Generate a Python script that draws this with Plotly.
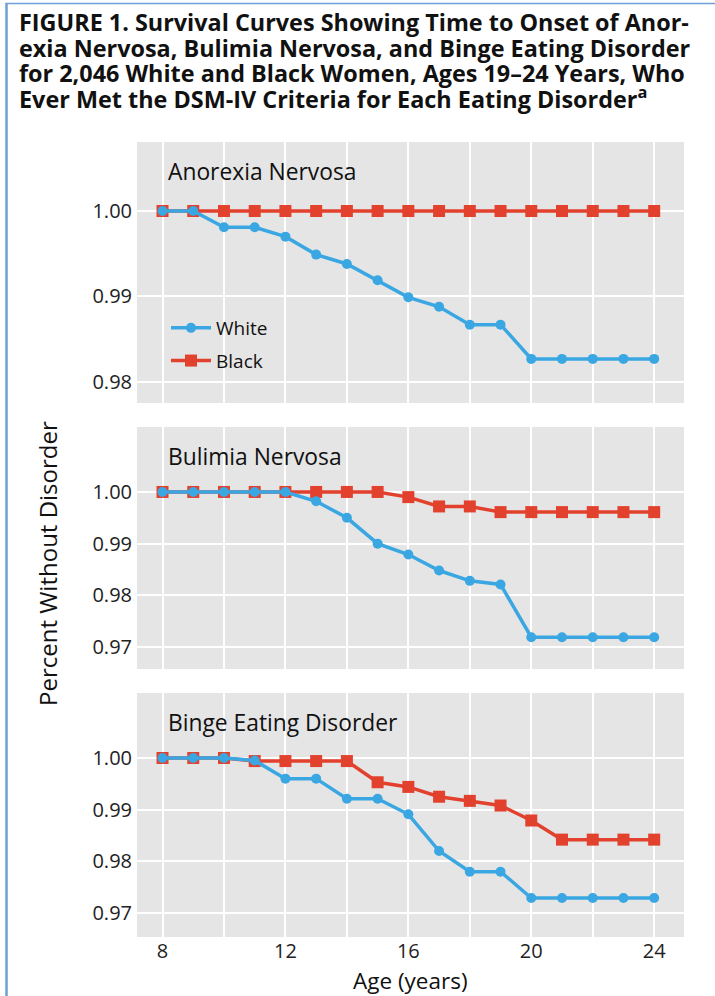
import plotly.graph_objects as go

W, H = 715, 996

ages = list(range(8, 25))

anorexia_white = [1.000, 1.000, 0.9981, 0.9981, 0.9970, 0.9949, 0.9938, 0.9919, 0.9899,
                  0.9888, 0.9867, 0.9867, 0.9827, 0.9827, 0.9827, 0.9827, 0.9827]
anorexia_black = [1.000] * 17

bulimia_white = [1.000, 1.000, 1.000, 1.000, 1.000, 0.9982, 0.9950, 0.9900, 0.9879,
                 0.9848, 0.9828, 0.9821, 0.9719, 0.9719, 0.9719, 0.9719, 0.9719]
bulimia_black = [1.000, 1.000, 1.000, 1.000, 1.000, 1.000, 1.000, 1.000, 0.9990,
                 0.9972, 0.9972, 0.9961, 0.9961, 0.9961, 0.9961, 0.9961, 0.9961]

binge_white = [1.000, 1.000, 1.000, 0.9995, 0.9960, 0.9960, 0.9921, 0.9921, 0.9891,
               0.9820, 0.9780, 0.9780, 0.9729, 0.9729, 0.9729, 0.9729, 0.9729]
binge_black = [1.000, 1.000, 1.000, 0.9994, 0.9994, 0.9994, 0.9994, 0.9953, 0.9944,
               0.9925, 0.9917, 0.9908, 0.9879, 0.9842, 0.9842, 0.9842, 0.9842]

panel_titles = ["Anorexia Nervosa", "Bulimia Nervosa", "Binge Eating Disorder"]
x_tickvals = [8, 12, 16, 20, 24]
x_minor_grid = [10, 14, 18, 22]
title_lines = [
    "FIGURE 1. Survival Curves Showing Time to Onset of Anor-",
    "exia Nervosa, Bulimia Nervosa, and Binge Eating Disorder",
    "for 2,046 White and Black Women, Ages 19\u201324 Years, Who",
    "Ever Met the DSM-IV Criteria for Each Eating Disorder<sup>a</sup>",
]

BLUE = "#3AA7E2"
RED = "#E2412D"
BG = "#E5E5E5"
FONT = "Open Sans"

def py(px):
    return 1 - px / H

def pxx(px):
    return px / W

panels = [
    (anorexia_white, anorexia_black, (142, 403), [0.97754, 1.00807], [0.98, 0.99, 1.00]),
    (bulimia_white, bulimia_black, (427, 669), [0.96574, 1.01257], [0.97, 0.98, 0.99, 1.00]),
    (binge_white, binge_black, (693, 937), [0.96536, 1.01257], [0.97, 0.98, 0.99, 1.00]),
]

fig = go.Figure()
xdom = [pxx(137), pxx(684)]

for i, (wv, bv, (top, bot), yr, yticks) in enumerate(panels):
    n = i + 1
    xa = "x" if n == 1 else f"x{n}"
    ya = "y" if n == 1 else f"y{n}"
    fig.add_trace(go.Scatter(
        x=ages, y=bv, mode="lines+markers", name="Black",
        line=dict(color=RED, width=3.5),
        marker=dict(symbol="square", size=12, color=RED),
        xaxis=xa, yaxis=ya, showlegend=(n == 1), legendrank=2, legendgroup="b",
    ))
    fig.add_trace(go.Scatter(
        x=ages, y=wv, mode="lines+markers", name="White",
        line=dict(color=BLUE, width=3.5),
        marker=dict(symbol="circle", size=10, color=BLUE),
        xaxis=xa, yaxis=ya, showlegend=(n == 1), legendrank=1, legendgroup="w",
    ))
    xkey = "xaxis" if n == 1 else f"xaxis{n}"
    ykey = "yaxis" if n == 1 else f"yaxis{n}"
    fig.update_layout(**{
        xkey: dict(
            domain=xdom, anchor=ya, range=[7.17, 24.97],
            tickvals=x_tickvals, ticktext=[str(v) for v in x_tickvals],
            showticklabels=(n == 3), showgrid=True, gridcolor="white", gridwidth=1.5,
            minor=dict(tickvals=x_minor_grid, showgrid=True, gridcolor="white",
                       gridwidth=1.5, ticks=""),
            zeroline=False, showline=False, ticks="", automargin=False,
            tickfont=dict(family=FONT, size=20, color="#222"),
        ),
        ykey: dict(
            domain=[py(bot), py(top)], anchor=xa, range=yr,
            tickvals=yticks, ticktext=[f"{v:.2f}" for v in yticks],
            showgrid=True, gridcolor="white", gridwidth=1.5,
            zeroline=False, showline=False, ticks="", automargin=False,
            tickfont=dict(family=FONT, size=20, color="#222"), ticklabelstandoff=4,
        ),
    })
    fig.add_annotation(
        x=pxx(166), y=py({0: 171, 1: 457, 2: 722}[i]), xref="paper", yref="paper",
        text=panel_titles[i], showarrow=False, xanchor="left", yanchor="middle",
        font=dict(family=FONT, size=22.8, color="#111", weight=500),
    )

for j, line in enumerate(title_lines):
    fig.add_annotation(
        x=pxx(17), y=py([22, 48, 73, 98][j]), xref="paper", yref="paper",
        text=line, showarrow=False, xanchor="left", yanchor="middle",
        font=dict(family=FONT, size=23.4, color="#111", weight=700),
    )

fig.add_annotation(
    x=pxx(47), y=py(564), xref="paper", yref="paper", text="Percent Without Disorder",
    textangle=-90, showarrow=False, xanchor="center", yanchor="middle",
    font=dict(family=FONT, size=24, color="#111"),
)
fig.add_annotation(
    x=pxx(410), y=py(980), xref="paper", yref="paper", text="Age (years)",
    showarrow=False, xanchor="center", yanchor="middle",
    font=dict(family=FONT, size=22.5, color="#111"),
)

fig.add_shape(type="line", xref="paper", yref="paper", x0=pxx(6.5), x1=pxx(6.5), y0=0, y1=py(3),
              line=dict(color="#6E9FD5", width=2.5))
fig.add_shape(type="line", xref="paper", yref="paper", x0=pxx(5.5), x1=1, y0=py(3.5), y1=py(3.5),
              line=dict(color="#6E9FD5", width=1.5))

fig.update_layout(
    width=W, height=H, margin=dict(l=0, r=0, t=0, b=0),
    paper_bgcolor="white", plot_bgcolor=BG,
    showlegend=True,
    legend=dict(x=pxx(166), y=py(309), xanchor="left", yanchor="top",
                bgcolor="rgba(0,0,0,0)", font=dict(family=FONT, size=19, color="#111"),
                itemwidth=40, tracegroupgap=5),
    font=dict(family=FONT),
)

fig.write_html(
    "out.html",
    config={"displayModeBar": False},
    post_script="document.body.style.margin='0';document.body.style.padding='0';"
                "document.documentElement.style.overflow='hidden';",
)
